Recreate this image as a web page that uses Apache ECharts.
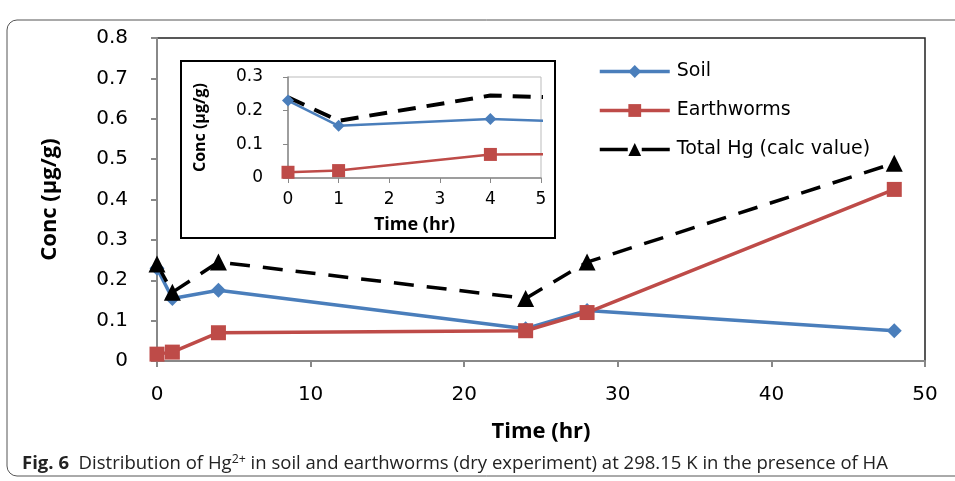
<!DOCTYPE html>
<html>
	<head>
		<meta charset="utf-8">
		<title>Hg2+ distribution</title>
		<script src="https://cdn.jsdelivr.net/npm/echarts@6/dist/echarts.min.js"></script>
		<style type="text/css">
			html, body { margin: 0; padding: 0; background: #fff; }
			#main { width: 955px; height: 481px; }
		</style>
	</head>
	<body>
		<div id="main"></div>
		<script>
			// 数据
			var time = [0, 1, 4, 24, 28, 48];
			var soil = [0.23, 0.155, 0.175, 0.08, 0.125, 0.075];
			var earthworms = [0.017, 0.022, 0.07, 0.075, 0.12, 0.425];
			var totalHg = [0.24, 0.17, 0.245, 0.155, 0.245, 0.49];
			var names = ['Soil', 'Earthworms', 'Total Hg (calc value)'];

			function pairs(vals) {
				var out = [];
				for (var i = 0; i < time.length; i++) {
					out.push([time[i], vals[i]]);
				}
				return out;
			}

			var blue = '#4a7ebb', red = '#be4b48';
			var tickFont = 'DejaVu Sans';
			var titleFont = 'Open Sans';
			var capFont = 'Open Sans';

			// 图注文字压缩到参考宽度
			var capBold = 'Fig. 6';
			var capA = '  Distribution of Hg';
			var capSup = '2+';
			var capB = ' in soil and earthworms (dry experiment) at 298.15 K in the presence of HA';
			var ctx = document.createElement('canvas').getContext('2d');
			ctx.font = 'bold 18px "' + capFont + '"';
			var capW = ctx.measureText(capBold).width;
			ctx.font = '18px "' + capFont + '"';
			capW += ctx.measureText(capA + capB).width;
			ctx.font = '12px "' + capFont + '"';
			capW += ctx.measureText(capSup).width;
			var capScale = 866 / capW;

			var chart = echarts.init(document.getElementById('main'));
			chart.setOption({
				animation: false,
				legend: {
					data: [
						{ name: names[0], lineStyle: { width: 3.5 } },
						{ name: names[1], lineStyle: { width: 3.5 } },
						{ name: names[2], lineStyle: { width: 3.5, type: [28, 14] } }
					],
					orient: 'vertical',
					left: 593,
					top: 57,
					itemWidth: 70,
					itemHeight: 16,
					itemGap: 20,
					textStyle: { fontFamily: tickFont, fontSize: 19, color: '#000', padding: [0, 0, 0, 2] }
				},
				grid: [{
					left: 157, top: 38, right: 30, bottom: 120,
					show: true, borderColor: '#222', borderWidth: 1.5
				}, {
					left: 288, top: 77, right: 414, bottom: 303,
					show: true, borderColor: '#bbb', borderWidth: 1, z: 20
				}],
				xAxis: [{
					gridIndex: 0, type: 'value', min: 0, max: 50, interval: 10,
					name: 'Time (hr)', nameLocation: 'middle', nameGap: 60,
					nameTextStyle: { fontFamily: titleFont, fontWeight: 'bold', fontSize: 22, color: '#000' },
					axisLine: { lineStyle: { color: '#888', width: 2 } },
					axisTick: { show: true, length: 6, lineStyle: { color: '#888', width: 2 } },
					axisLabel: { fontFamily: tickFont, fontSize: 20, color: '#000', margin: 24 },
					splitLine: { show: false }
				}, {
					gridIndex: 1, type: 'value', min: 0, max: 5, interval: 1, z: 20,
					name: 'Time (hr)', nameLocation: 'middle', nameGap: 38,
					nameTextStyle: { fontFamily: titleFont, fontWeight: 'bold', fontSize: 18, color: '#000' },
					axisLine: { lineStyle: { color: '#888', width: 1.5 } },
					axisTick: { show: true, length: 5, lineStyle: { color: '#888' } },
					axisLabel: { fontFamily: tickFont, fontSize: 17, color: '#000', margin: 13 },
					splitLine: { show: false }
				}],
				yAxis: [{
					gridIndex: 0, type: 'value', min: 0, max: 0.8, interval: 0.1,
					name: 'Conc (µg/g)', nameLocation: 'middle', nameGap: 96,
					nameTextStyle: { fontFamily: titleFont, fontWeight: 'bold', fontSize: 22, color: '#000' },
					axisLine: { show: true, lineStyle: { color: '#888', width: 2 } },
					axisTick: { show: true, length: 6, lineStyle: { color: '#888', width: 2 } },
					axisLabel: { fontFamily: tickFont, fontSize: 20, color: '#000', margin: 29,
						formatter: function(v) { return v === 0 ? '0' : v.toFixed(1); } },
					splitLine: { show: false }
				}, {
					gridIndex: 1, type: 'value', min: 0, max: 0.3, interval: 0.1, z: 20,
					name: 'Conc (µg/g)', nameLocation: 'middle', nameGap: 80,
					nameTextStyle: { fontFamily: titleFont, fontWeight: 'bold', fontSize: 16, color: '#000' },
					axisLine: { show: true, lineStyle: { color: '#888', width: 1.5 } },
					axisTick: { show: true, length: 5, lineStyle: { color: '#888' } },
					axisLabel: { fontFamily: tickFont, fontSize: 17, color: '#000', margin: 25,
						formatter: function(v) { return v === 0 ? '0' : v.toFixed(1); } },
					splitLine: { show: false }
				}],
				graphic: [{
					// 外框
					type: 'rect', z: 1, silent: true,
					shape: { x: 7, y: 20, width: 1000, height: 456, r: 10 },
					style: { fill: 'none', stroke: '#555', lineWidth: 1 }
				}, {
					// 小图背景
					type: 'rect', z: 10, silent: true,
					shape: { x: 181, y: 61, width: 374, height: 177 },
					style: { fill: '#fff', stroke: '#000', lineWidth: 2 }
				}, {
					type: 'text', x: 22, y: 454, z: 30, silent: true,
					scaleX: capScale, originX: 0,
					style: {
						text: '{b|' + capBold + '}' + capA + '{sup|' + capSup + '}' + capB,
						fontFamily: capFont, fontSize: 18, fill: '#222',
						rich: {
							b: { fontFamily: capFont, fontWeight: 'bold', fontSize: 18, fill: '#222' },
							sup: { fontFamily: capFont, fontSize: 12, fill: '#222', verticalAlign: 'top', padding: [0, 0, 8, 0] }
						}
					}
				}],
				series: [{
					name: names[0], type: 'line', xAxisIndex: 0, yAxisIndex: 0,
					data: pairs(soil), symbol: 'diamond', symbolSize: 15,
					lineStyle: { color: blue, width: 3.5 }, itemStyle: { color: blue }
				}, {
					name: names[1], type: 'line', xAxisIndex: 0, yAxisIndex: 0,
					data: pairs(earthworms), symbol: 'rect', symbolSize: 15,
					lineStyle: { color: red, width: 3.5 }, itemStyle: { color: red }
				}, {
					name: names[2], type: 'line', xAxisIndex: 0, yAxisIndex: 0,
					data: pairs(totalHg), symbol: 'triangle', symbolSize: 17,
					lineStyle: { color: '#000', width: 3.5, type: [20, 13] }, itemStyle: { color: '#000' }
				}, {
					name: names[0], type: 'line', xAxisIndex: 1, yAxisIndex: 1, z: 20, clip: true,
					data: pairs(soil), symbol: 'diamond', symbolSize: 12,
					lineStyle: { color: blue, width: 2.5 }, itemStyle: { color: blue }
				}, {
					name: names[1], type: 'line', xAxisIndex: 1, yAxisIndex: 1, z: 20, clip: true,
					data: pairs(earthworms), symbol: 'rect', symbolSize: 13,
					lineStyle: { color: red, width: 2.5 }, itemStyle: { color: red }
				}, {
					name: names[2], type: 'line', xAxisIndex: 1, yAxisIndex: 1, z: 20, clip: true,
					data: pairs(totalHg), symbol: 'none',
					lineStyle: { color: '#000', width: 4, type: [18, 11] }, itemStyle: { color: '#000' }
				}]
			});
		</script>
	</body>
</html>
